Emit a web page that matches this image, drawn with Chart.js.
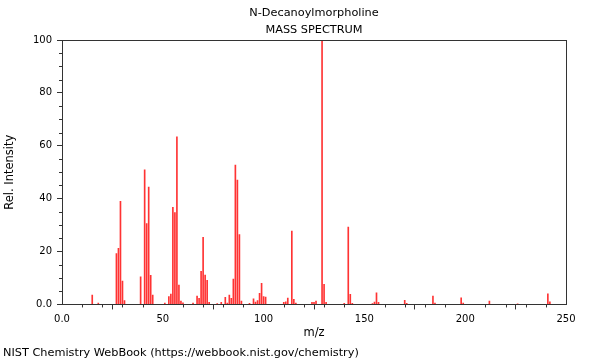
<!DOCTYPE html>
<html>
<head>
<meta charset="utf-8">
<script src="https://cdn.jsdelivr.net/npm/chart.js@4/dist/chart.umd.min.js"></script>
<style>
  body { margin: 0; background: #fff; }
  canvas { display: block; }
</style>
</head>
<body>
<canvas id="msChart" width="600" height="360"></canvas>
<script>
// m/z values and relative intensities
const mzValues = [15,18,27,28,29,30,31,39,41,42,43,44,45,51,53,54,55,56,57,58,59,60,
  65,67,68,69,70,71,72,73,77,79,81,82,83,84,85,86,87,88,89,93,95,96,97,98,99,100,101,
  110,111,112,114,115,116,124,125,126,129,130,131,140,142,143,144,154,155,156,157,
  170,171,184,185,198,199,212,226,241,242];
const intensities = [3.5,0.5,19.2,21.2,39.0,8.8,1.5,10.4,50.9,30.6,44.4,11.0,3.5,0.5,3.0,3.9,36.7,34.7,63.4,7.3,1.3,0.6,
  0.5,3.2,2.3,12.5,25.4,11.1,9.1,0.8,0.3,0.8,2.7,0.5,3.5,2.3,9.6,52.7,47.0,26.4,1.3,0.4,2.1,0.9,1.5,4.2,8.0,3.0,2.8,
  0.8,1.0,2.4,27.7,1.9,0.5,0.8,0.8,1.3,100,7.6,0.8,0.4,29.3,3.8,0.4,0.3,0.9,4.4,0.8,
  1.6,0.4,3.2,0.5,2.5,0.5,1.3,0.2,4.0,1.0];

const xTicksMajor = [0, 50, 100, 150, 200, 250];
const yTicksMajor = [0, 20, 40, 60, 80, 100];

const points = mzValues.map((m, i) => ({ x: m, y: intensities[i] }));
const axisColor = '#333';
const tickFont = { family: 'DejaVu Sans', size: 10 };
const textFont = { family: 'DejaVu Sans', size: 11.3 };
const axisTitleFont = { family: 'DejaVu Sans', size: 11.5 };

// frame around plot plus short minor ticks
const framePlugin = {
  id: 'frame',
  afterDraw(chart) {
    const { ctx, chartArea: a, scales } = chart;
    ctx.save();
    ctx.strokeStyle = axisColor;
    ctx.lineWidth = 1;
    ctx.strokeRect(Math.round(a.left) + 0.5, Math.round(a.top) + 0.5,
      Math.round(a.right - a.left), Math.round(a.bottom - a.top));
    ctx.beginPath();
    for (let v = 5; v < 100; v += 5) {
      if (v % 20 === 0) continue;
      const y = Math.round(scales.y.getPixelForValue(v)) + 0.5;
      ctx.moveTo(a.left - 3, y);
      ctx.lineTo(a.left, y);
    }
    for (let v = 10; v < 250; v += 10) {
      if (v % 50 === 0) continue;
      const x = Math.round(scales.x.getPixelForValue(v)) + 0.5;
      ctx.moveTo(x, a.bottom);
      ctx.lineTo(x, a.bottom + 3);
    }
    ctx.stroke();
    ctx.restore();
  }
};

new Chart(document.getElementById('msChart'), {
  type: 'bar',
  data: {
    datasets: [{
      data: points,
      backgroundColor: 'rgba(255,0,0,0.8)',
      borderWidth: 0,
      barThickness: 1,
      grouped: false
    }]
  },
  options: {
    responsive: false,
    animation: false,
    layout: { padding: { left: 3, right: 34, top: 0, bottom: 0 } },
    plugins: {
      legend: { display: false },
      tooltip: { enabled: false },
      title: {
        display: true,
        fullSize: false,
        text: ['N-Decanoylmorpholine', 'MASS SPECTRUM'],
        color: '#000',
        font: { family: 'DejaVu Sans', size: 11.3, weight: 'normal', lineHeight: 17 / 11.3 },
        padding: { top: 5, bottom: 1 }
      },
      subtitle: {
        display: true,
        position: 'bottom',
        align: 'start',
        text: 'NIST Chemistry WebBook (https://webbook.nist.gov/chemistry)',
        color: '#000',
        font: textFont,
        padding: { top: 7, bottom: 0 }
      }
    },
    scales: {
      x: {
        type: 'linear',
        min: 0,
        max: 250,
        offset: false,
        afterBuildTicks: s => { s.ticks = xTicksMajor.map(v => ({ value: v })); },
        afterFit: s => { s.height = 35; },
        ticks: {
          color: '#000',
          font: tickFont,
          padding: 4,
          maxRotation: 0,
          callback: v => v === 0 ? '0.0' : String(v)
        },
        grid: { drawOnChartArea: false, drawTicks: true, tickLength: 5, color: axisColor },
        border: { display: true, color: axisColor },
        title: { display: true, text: 'm/z', color: '#000', font: axisTitleFont, padding: { top: 0, bottom: 0 } }
      },
      y: {
        min: 0,
        max: 100,
        afterBuildTicks: s => { s.ticks = yTicksMajor.map(v => ({ value: v })); },
        afterFit: s => { s.width = 59; },
        ticks: {
          color: '#000',
          font: tickFont,
          padding: 5,
          callback: v => v === 0 ? '0.0' : String(v)
        },
        grid: { drawOnChartArea: false, drawTicks: true, tickLength: 5, color: axisColor },
        border: { display: true, color: axisColor },
        title: { display: true, text: 'Rel. Intensity', color: '#000', font: axisTitleFont, padding: { top: 0, bottom: 0 } }
      }
    }
  },
  plugins: [framePlugin]
});
</script>
</body>
</html>
